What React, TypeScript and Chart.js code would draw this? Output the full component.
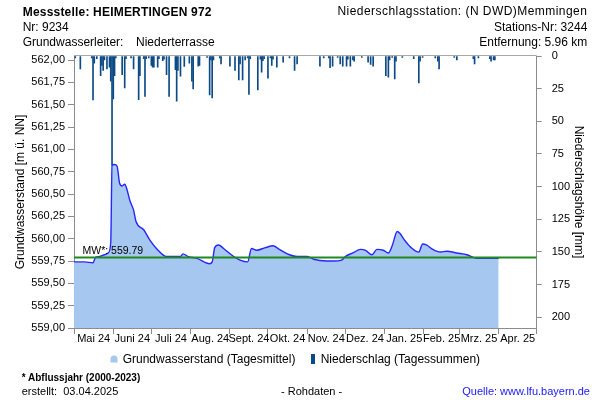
import React, { useEffect, useRef } from 'react';
import { Chart, registerables } from 'chart.js';

Chart.register(...registerables);

const FONT = '"Liberation Sans", Arial, Helvetica, sans-serif';
Chart.defaults.font.family = FONT;
Chart.defaults.color = '#000';

// ---- data ----
const MONTH_STARTS = [
  '2024-05-01', '2024-06-01', '2024-07-01', '2024-08-01', '2024-09-01', '2024-10-01',
  '2024-11-01', '2024-12-01', '2025-01-01', '2025-02-01', '2025-03-01', '2025-04-01', '2025-05-01',
];
const MONTH_LABELS = [
  'Mai 24', 'Juni 24', 'Juli 24', 'Aug. 24', 'Sept. 24', 'Okt. 24',
  'Nov. 24', 'Dez. 24', 'Jan. 25', 'Feb. 25', 'Mrz. 25', 'Apr. 25',
];
const LEVEL_TICKS = [559, 559.25, 559.5, 559.75, 560, 560.25, 560.5, 560.75, 561, 561.25, 561.5, 561.75, 562];
const RAIN_TICKS = [0, 25, 50, 75, 100, 125, 150, 175, 200];
const LEVEL_MIN = 559;
const LEVEL_MAX = 562.045;
const RAIN_MAX = 208.2;
const MEAN_LEVEL = 559.79;

const GW_DATES = [
  '2024-05-01', '2024-05-09', '2024-05-16', '2024-05-18', '2024-05-21', '2024-05-25', '2024-05-28',
  '2024-05-30', '2024-05-31', '2024-06-02', '2024-06-04', '2024-06-06', '2024-06-08', '2024-06-10',
  '2024-06-12', '2024-06-14', '2024-06-17', '2024-06-19', '2024-06-25', '2024-06-30', '2024-07-05',
  '2024-07-13', '2024-07-24', '2024-07-26', '2024-07-30', '2024-08-06', '2024-08-16', '2024-08-18',
  '2024-08-20', '2024-08-23', '2024-08-27', '2024-09-04', '2024-09-09', '2024-09-15', '2024-09-18',
  '2024-09-22', '2024-09-29', '2024-10-05', '2024-10-10', '2024-10-18', '2024-10-24', '2024-11-01',
  '2024-11-06', '2024-11-16', '2024-11-22', '2024-11-28', '2024-12-01', '2024-12-07', '2024-12-13',
  '2024-12-17', '2024-12-22', '2024-12-26', '2024-12-31', '2025-01-04', '2025-01-07', '2025-01-11',
  '2025-01-13', '2025-01-17', '2025-01-22', '2025-01-28', '2025-01-31', '2025-02-03', '2025-02-08',
  '2025-02-14', '2025-02-19', '2025-02-27', '2025-03-07', '2025-03-12', '2025-03-15', '2025-04-01',
];
const GW_VALUES = [
  559.74, 559.74, 559.73, 559.79, 559.80, 559.82, 559.84,
  559.96, 560.82, 560.83, 560.81, 560.62, 560.59, 560.61,
  560.54, 560.43, 560.32, 560.19, 560.10, 559.98, 559.89,
  559.80, 559.80, 559.83, 559.80, 559.78, 559.72, 559.74,
  559.90, 559.93, 559.89, 559.80, 559.76, 559.74, 559.89,
  559.87, 559.90, 559.92, 559.88, 559.82, 559.80, 559.80,
  559.77, 559.75, 559.75, 559.76, 559.80, 559.84, 559.88,
  559.87, 559.82, 559.88, 559.87, 559.84, 559.92, 560.08,
  560.06, 559.98, 559.90, 559.85, 559.94, 559.93, 559.88,
  559.85, 559.86, 559.84, 559.82, 559.79, 559.78, 559.78,
];

const RAIN_DATES = [
  '2024-05-02', '2024-05-06', '2024-05-15', '2024-05-16', '2024-05-17', '2024-05-19', '2024-05-22',
  '2024-05-23', '2024-05-24', '2024-05-25', '2024-05-27', '2024-05-29', '2024-05-30', '2024-05-31',
  '2024-06-01', '2024-06-02', '2024-06-03', '2024-06-08', '2024-06-10', '2024-06-11', '2024-06-15',
  '2024-06-17', '2024-06-21', '2024-06-22', '2024-06-25', '2024-06-26', '2024-06-27', '2024-06-29',
  '2024-07-01', '2024-07-02', '2024-07-03', '2024-07-06', '2024-07-07', '2024-07-10', '2024-07-11',
  '2024-07-13', '2024-07-15', '2024-07-20', '2024-07-21', '2024-07-22', '2024-07-24', '2024-07-27',
  '2024-07-31', '2024-08-02', '2024-08-03', '2024-08-07', '2024-08-08', '2024-08-14', '2024-08-16',
  '2024-08-17', '2024-08-18', '2024-08-19', '2024-08-24', '2024-08-25', '2024-09-01', '2024-09-05',
  '2024-09-08', '2024-09-09', '2024-09-11', '2024-09-13', '2024-09-15', '2024-09-16', '2024-09-17',
  '2024-09-23', '2024-09-25', '2024-09-26', '2024-09-27', '2024-09-28', '2024-10-01', '2024-10-03',
  '2024-10-04', '2024-10-05', '2024-10-08', '2024-10-13', '2024-10-18', '2024-10-22', '2024-10-24',
  '2024-11-11', '2024-11-14', '2024-11-18', '2024-11-19', '2024-11-21', '2024-11-25', '2024-11-27',
  '2024-11-29', '2024-12-02', '2024-12-03', '2024-12-05', '2024-12-07', '2024-12-08', '2024-12-14',
  '2024-12-19', '2024-12-21', '2024-12-23', '2025-01-02', '2025-01-04', '2025-01-05', '2025-01-07',
  '2025-01-09', '2025-01-10', '2025-01-15', '2025-01-24', '2025-01-28', '2025-01-29', '2025-01-31',
  '2025-02-10', '2025-02-12', '2025-02-13', '2025-02-25', '2025-02-27', '2025-03-12', '2025-03-13',
  '2025-03-16', '2025-03-25', '2025-03-26', '2025-03-28', '2025-03-29',
];
const RAIN_MM = [
  1.4, 9.8, 1.5, 33.6, 5.5, 2, 15,
  7.3, 11, 3, 9.8, 8.6, 19.3, 83.5,
  32.8, 15, 1.5, 14.2, 24.4, 2, 1.5,
  9.8, 33.4, 15, 2, 31, 2, 1.5,
  7.3, 8.6, 8.6, 8.6, 2, 3.5, 2.5,
  14.2, 31, 10.4, 34.6, 11, 15.5, 8,
  5.5, 19.3, 25.2, 7.8, 7.3, 1, 29.8,
  3, 32, 3, 1.5, 6, 7.8, 11,
  18.3, 6, 18.3, 3, 1.5, 29.5, 2,
  26, 2.5, 12.4, 3.5, 2, 17, 1.5,
  7.3, 2.5, 8.6, 4.7, 1.5, 11, 6,
  7.8, 1.5, 1.5, 9, 7.8, 1, 6,
  7.8, 7.8, 2.5, 7.8, 3, 4, 1,
  4.7, 6.5, 7.8, 15, 16.2, 3, 1,
  17.5, 4, 1, 2, 20.6, 4, 1,
  1.5, 3.9, 9.8, 1, 3, 2, 6,
  1.5, 2, 4, 3, 3,
];

// ---- helpers ----
const BASE = Date.UTC(2024, 4, 1);
const dayOf = (s: string) => {
  const [y, m, d] = s.split('-').map(Number);
  return (Date.UTC(y, m - 1, d) - BASE) / 86400000;
};
const X_MIN = dayOf(MONTH_STARTS[0]);
const X_MAX = dayOf(MONTH_STARTS[MONTH_STARTS.length - 1]);
const fmtLevel = (v: number) => v.toFixed(2).replace('.', ',');

const AXIS_GREY = '#8c8c8c';
const FILL_BLUE = 'rgb(166,199,240)';
const LINE_BLUE = '#2626ff';
const RAIN_BLUE = '#0c4a86';
const MEAN_GREEN = '#1f8a1f';

const framePlugin = {
  id: 'frame',
  beforeDatasetsDraw(chart: any) {
    const { ctx, chartArea: a } = chart;
    ctx.save();
    ctx.strokeStyle = '#a8a8a8';
    ctx.lineWidth = 1;
    ctx.beginPath();
    ctx.moveTo(a.left, a.top - 0.5);
    ctx.lineTo(a.right, a.top - 0.5);
    ctx.stroke();
    ctx.restore();
  },
  afterDatasetsDraw(chart: any) {
    const { ctx, chartArea: a, scales } = chart;
    ctx.save();
    ctx.fillStyle = '#000';
    ctx.font = `10.5px ${FONT}`;
    ctx.textBaseline = 'alphabetic';
    ctx.textAlign = 'left';
    ctx.fillText(`MW*: ${MEAN_LEVEL.toFixed(2)}`, a.left + 8.5, scales.y.getPixelForValue(MEAN_LEVEL) - 3);
    ctx.restore();
  },
};

function GwChart() {
  const ref = useRef<HTMLCanvasElement | null>(null);
  useEffect(() => {
    if (!ref.current) return;
    const chart = new Chart(ref.current, {
      type: 'bar',
      data: {
        datasets: [
          {
            type: 'line',
            label: 'MW',
            data: [{ x: X_MIN, y: MEAN_LEVEL }, { x: X_MAX, y: MEAN_LEVEL }],
            borderColor: MEAN_GREEN,
            borderWidth: 2,
            pointRadius: 0,
            fill: false,
            xAxisID: 'x',
            yAxisID: 'y',
            order: 0,
          } as any,
          {
            type: 'line',
            label: 'Grundwasserstand (Tagesmittel)',
            data: GW_DATES.map((d, i) => ({ x: dayOf(d), y: GW_VALUES[i] })),
            borderColor: LINE_BLUE,
            backgroundColor: FILL_BLUE,
            borderWidth: 1.4,
            pointRadius: 0,
            fill: 'start',
            cubicInterpolationMode: 'monotone',
            xAxisID: 'x',
            yAxisID: 'y',
            order: 1,
          } as any,
          {
            type: 'bar',
            label: 'Niederschlag (Tagessummen)',
            data: RAIN_DATES.map((d, i) => ({ x: dayOf(d), y: RAIN_MM[i] })),
            backgroundColor: RAIN_BLUE,
            borderWidth: 0,
            barThickness: 1,
            xAxisID: 'x',
            yAxisID: 'y2',
            order: 2,
          } as any,
        ],
      },
      options: {
        responsive: false,
        animation: false,
        events: [],
        layout: { padding: { left: 0, right: 0, top: 56, bottom: 51 } },
        plugins: { legend: { display: false }, tooltip: { enabled: false } },
        scales: {
          x: {
            type: 'linear',
            position: 'bottom',
            weight: 0,
            min: X_MIN,
            max: X_MAX,
            offset: false,
            afterBuildTicks: (s: any) => {
              s.ticks = MONTH_STARTS.map((d) => ({ value: dayOf(d) }));
            },
            afterFit: (s: any) => {
              s.height = 0;
            },
            ticks: { display: false },
            grid: { offset: false, drawOnChartArea: false, drawTicks: true, tickLength: 6, color: AXIS_GREY },
            border: { display: true, color: AXIS_GREY, width: 1 },
          },
          xl: {
            type: 'linear',
            position: 'bottom',
            weight: 1,
            min: X_MIN,
            max: X_MAX,
            offset: false,
            afterBuildTicks: (s: any) => {
              s.ticks = MONTH_LABELS.map((_, i) => ({
                value: (dayOf(MONTH_STARTS[i]) + dayOf(MONTH_STARTS[i + 1])) / 2,
              }));
            },
            afterFit: (s: any) => {
              s.height = 21;
            },
            ticks: {
              autoSkip: false,
              maxRotation: 0,
              minRotation: 0,
              padding: 4,
              color: '#000',
              font: { size: 11 },
              callback: (_v: any, i: number) => MONTH_LABELS[i],
            },
            grid: { display: false, drawTicks: false, offset: false },
            border: { display: false },
          },
          y: {
            type: 'linear',
            position: 'left',
            min: LEVEL_MIN,
            max: LEVEL_MAX,
            afterBuildTicks: (s: any) => {
              s.ticks = LEVEL_TICKS.map((v) => ({ value: v }));
            },
            afterFit: (s: any) => {
              s.width = 74;
            },
            ticks: {
              autoSkip: false,
              padding: 3,
              color: '#000',
              font: { size: 11 },
              callback: (v: any) => fmtLevel(Number(v)),
            },
            grid: { drawOnChartArea: false, tickLength: 6, color: AXIS_GREY },
            border: { display: true, color: AXIS_GREY },
            title: {
              display: true,
              text: 'Grundwasserstand [m ü. NN]',
              color: '#000',
              font: { size: 12 },
              padding: { top: 13.8, bottom: 0 },
            },
          },
          y2: {
            type: 'linear',
            position: 'right',
            reverse: true,
            min: 0,
            max: RAIN_MAX,
            afterBuildTicks: (s: any) => {
              s.ticks = RAIN_TICKS.map((v) => ({ value: v }));
            },
            afterFit: (s: any) => {
              s.width = 63.3;
            },
            ticks: {
              autoSkip: false,
              padding: 10,
              color: '#000',
              font: { size: 11 },
              callback: (v: any) => String(v),
            },
            grid: { drawOnChartArea: false, tickLength: 5, color: AXIS_GREY },
            border: { display: true, color: AXIS_GREY },
            title: {
              display: true,
              text: 'Niederschlagshöhe [mm]',
              color: '#000',
              font: { size: 12 },
              padding: { top: 14.8, bottom: 0 },
            },
          },
        },
      } as any,
      plugins: [framePlugin],
    });
    return () => chart.destroy();
  }, []);
  return <canvas ref={ref} width={600} height={400} style={{ position: 'absolute', left: 0, top: 0, width: 600, height: 400 }} />;
}

const txt = (
  left: number | undefined,
  right: number | undefined,
  baseline: number,
  size: number,
  extra: React.CSSProperties = {}
): React.CSSProperties => {
  const lh = Math.round(size * 1.17);
  const asc = size * 0.905;
  const half = (lh - size * 1.15) / 2;
  return {
    position: 'absolute',
    left,
    right,
    top: baseline - asc - half,
    fontSize: size,
    lineHeight: `${lh}px`,
    whiteSpace: 'nowrap',
    ...extra,
  };
};

export default function App() {
  return (
    <div
      style={{
        position: 'fixed',
        left: 0,
        top: 0,
        width: 600,
        height: 400,
        background: '#fff',
        color: '#000',
        fontFamily: FONT,
        overflow: 'hidden',
      }}
    >
      <GwChart />
      <div style={txt(22.7, undefined, 15.7, 12, { fontWeight: 'bold', letterSpacing: 0.2 })}>Messstelle: HEIMERTINGEN 972</div>
      <div style={txt(22.7, undefined, 30.7, 12)}>Nr: 9234</div>
      <div style={txt(22.7, undefined, 46, 12)}>Grundwasserleiter:</div>
      <div style={txt(136, undefined, 46, 12)}>Niederterrasse</div>

      <div style={txt(undefined, 12.7, 15.2, 12, { letterSpacing: 0.45 })}>Niederschlagsstation: (N DWD)Memmingen</div>
      <div style={txt(undefined, 12.7, 30.7, 12)}>Stations-Nr: 3244</div>
      <div style={txt(undefined, 12.7, 46, 12)}>Entfernung: 5.96 km</div>

      <svg width={8} height={8} style={{ position: 'absolute', left: 109.5, top: 354.5 }}>
        <path d="M0.5,7.5 L0.5,4 Q0.5,0.5 4,0.5 Q7.5,0.5 7.5,4 L7.5,7.5 Z" fill={FILL_BLUE} />
      </svg>
      <div style={txt(122.7, undefined, 362.7, 12)}>Grundwasserstand (Tagesmittel)</div>
      <div style={{ position: 'absolute', left: 310.8, top: 353.5, width: 4.5, height: 10, background: RAIN_BLUE }} />
      <div style={txt(320.7, undefined, 362.7, 12)}>Niederschlag (Tagessummen)</div>

      <div style={txt(21.7, undefined, 381.5, 10, { fontWeight: 'bold' })}>* Abflussjahr (2000-2023)</div>
      <div style={txt(21.7, undefined, 395.5, 11)}>erstellt:&nbsp;&nbsp;03.04.2025</div>
      <div style={txt(281, undefined, 395.5, 11)}>- Rohdaten -</div>
      <div style={txt(undefined, 10, 395.5, 11, { color: '#1a1aff' })}>Quelle: www.lfu.bayern.de</div>
    </div>
  );
}
